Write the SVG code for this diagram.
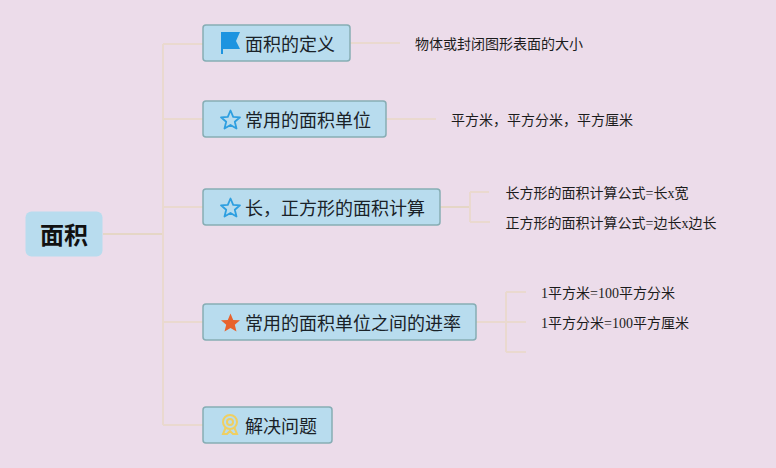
<svg xmlns="http://www.w3.org/2000/svg" width="776" height="468" viewBox="0 0 776 468">
<defs>
<style>
.bg{fill:#ecdcea}
.c{fill:none;stroke:#ead9cf;stroke-width:2}
.c2{fill:none;stroke:#e5d6c6;stroke-width:2}
.n{fill:#b8dcee;stroke:#86adb4;stroke-width:1.5}
.t{font-family:"Noto Sans CJK SC","Liberation Sans",sans-serif;font-size:18px;fill:#1a2228}
.s{font-family:"Liberation Serif","Noto Sans CJK SC",serif;font-size:14px;fill:#1c1c1c}
.r{font-family:"Noto Sans CJK SC","Liberation Sans",sans-serif;font-size:24px;font-weight:700;fill:#111}
.star{fill:none;stroke:#2e9fe0;stroke-width:1.8;stroke-linejoin:round}
</style>
<path id="st" d="M0,-9.500 L2.700,-3.100 L9.500,-2.700 L4.300,1.800 L6,8.500 L0,4.900 L-6,8.500 L-4.300,1.800 L-9.500,-2.700 L-2.700,-3.100 Z"/>
</defs>
<rect class="bg" width="776" height="468"/>
<g id="connectors">
<path class="c2" d="M103,234 H163"/>
<path class="c" d="M163,44 V425 M163,44 H203 M163,119 H203 M163,207 H203 M163,322 H203 M163,425 H203"/>
<path class="c" d="M350,43 H400 M386,119 H436"/>
<path class="c2" d="M440,207 H470"/>
<path class="c" d="M470,192 V222 M470,192 H489 M470,222 H490"/>
<path class="c" d="M476,322 H526 M506,292 V352 M506,292 H526 M506,352 H526"/>
</g>
<g id="root"><rect x="25.500" y="211.500" width="77" height="45" rx="6" fill="#b8dcee"/><text class="r" x="64" y="244" text-anchor="middle">面积</text></g>
<g id="n1"><rect class="n" x="203" y="25" width="147" height="36" rx="3"/>
<path d="M221,32 H240 L236,41 L240,49 H223 V54 H221 Z" fill="#1d94e0"/>
<text class="t" x="245" y="50.500">面积的定义</text></g>
<g id="n2"><rect class="n" x="203" y="101" width="183" height="36" rx="3"/>
<use href="#st" class="star" x="230.500" y="120"/>
<text class="t" x="245" y="126.500">常用的面积单位</text></g>
<g id="n3"><rect class="n" x="203" y="189" width="237" height="36" rx="3"/>
<use href="#st" class="star" x="230.500" y="208"/>
<text class="t" x="245" y="214.500">长，正方形的面积计算</text></g>
<g id="n4"><rect class="n" x="203" y="304" width="273" height="36" rx="3"/>
<use href="#st" x="230.500" y="323" fill="#e8622c"/>
<text class="t" x="245" y="329.500">常用的面积单位之间的进率</text></g>
<g id="n5"><rect class="n" x="203" y="407" width="129" height="36" rx="3"/>
<g fill="none" stroke="#efcf62" stroke-width="2"><circle cx="230" cy="422" r="7"/><circle cx="230" cy="422" r="3"/><path d="M225.500,428 L223,434 L227,434 L230,431 L233,434 L237,434 L234.500,428"/></g>
<text class="t" x="245" y="432.500">解决问题</text></g>
<g id="l1"><text class="s" x="415" y="49">物体或封闭图形表面的大小</text></g>
<g id="l2"><text class="s" x="451" y="125">平方米，平方分米，平方厘米</text></g>
<g id="l3"><text class="s" x="505.500" y="198">长方形的面积计算公式=长x宽</text></g>
<g id="l4"><text class="s" x="505.500" y="228">正方形的面积计算公式=边长x边长</text></g>
<g id="l5"><text class="s" x="541" y="298">1平方米=100平方分米</text></g>
<g id="l6"><text class="s" x="541" y="328">1平方分米=100平方厘米</text></g>
</svg>
